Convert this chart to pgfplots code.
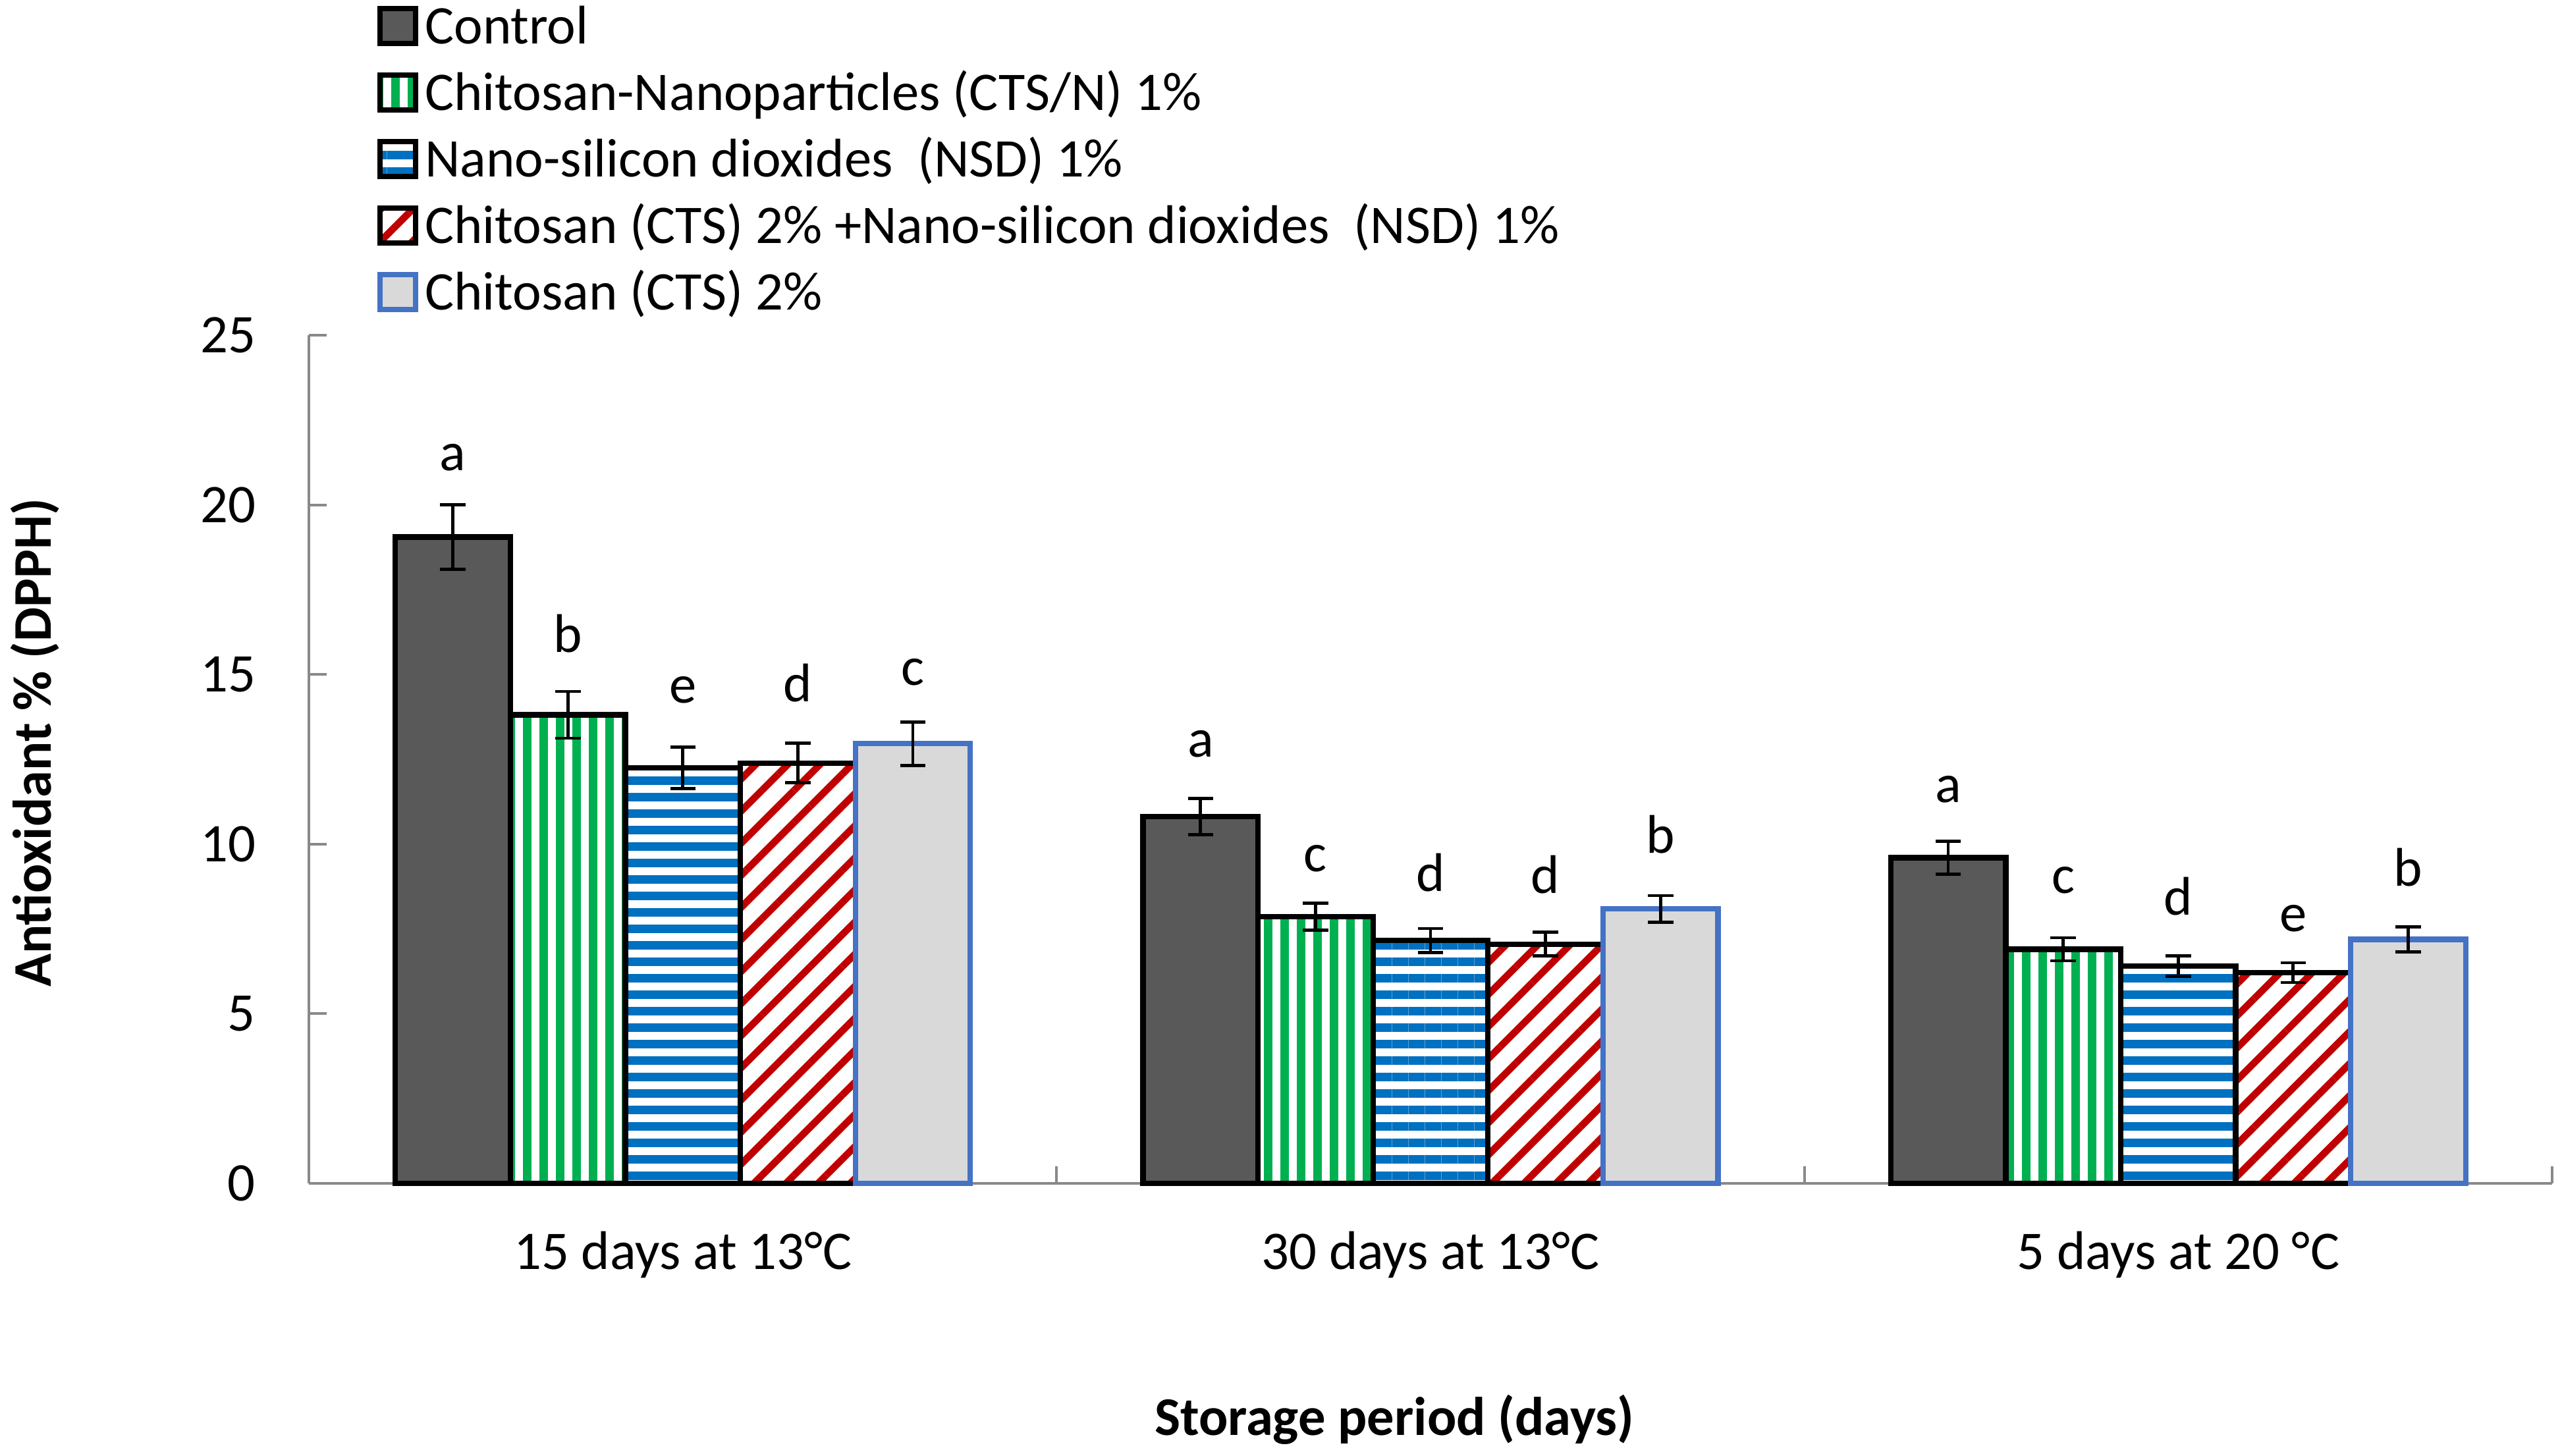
\documentclass[border=0pt]{standalone}
\usepackage{fontspec}
\setmainfont{Carlito}
\usepackage{pgfplots}
\usepackage{pgfplotstable}
\pgfplotsset{compat=1.18}
\usetikzlibrary{patterns.meta}

\definecolor{cgray}{HTML}{595959}
\definecolor{cgreen}{HTML}{00B050}
\definecolor{cblue}{HTML}{0070C0}
\definecolor{cred}{HTML}{C00000}
\definecolor{clight}{HTML}{D9D9D9}
\definecolor{cedge}{HTML}{4472C4}
\definecolor{caxis}{HTML}{898989}

\pgfplotstableread{
x y e ly lab
0 19.05 0.95 20.93 a
1 10.81 0.54 12.48 a
2 9.60 0.49 11.13 a
}\tctrl
\pgfplotstableread{
x y e ly lab
0 13.81 0.69 15.56 b
1 7.86 0.40 9.10 c
2 6.90 0.34 8.45 c
}\tnano
\pgfplotstableread{
x y e ly lab
0 12.25 0.61 14.07 e
1 7.16 0.35 8.51 d
2 6.40 0.30 7.82 d
}\tnsd
\pgfplotstableread{
x y e ly lab
0 12.39 0.58 14.11 d
1 7.05 0.35 8.45 d
2 6.21 0.29 7.33 e
}\tmix
\pgfplotstableread{
x y e ly lab
0 12.96 0.64 14.59 c
1 8.09 0.39 9.65 b
2 7.19 0.37 8.68 b
}\tcts

\begin{document}
\begin{tikzpicture}
\useasboundingbox (0,0) rectangle (564.6pt,320.9pt);
\begin{axis}[
  at={(68.1pt,60.1pt)}, anchor=south west,
  scale only axis, width=494.3pt, height=186.9pt,
  font=\fontsize{12}{14.4}\selectfont,
  /pgf/number format/assume math mode=true,
  clip=false,
  ybar=0pt, bar width=0.1538,
  xmin=-0.5, xmax=2.5, ymin=0, ymax=25,
  enlargelimits=false,
  axis x line*=bottom, axis y line*=left,
  axis line style={draw=caxis, line width=0.6pt},
  tick align=inside,
  major tick length=3.9pt, minor tick length=3.7pt,
  tick style={draw=caxis, line width=0.6pt},
  xtick={0,1,2},
  xticklabels={15 days at 13°C, 30 days at 13°C, 5 days at 20 °C},
  major x tick style={draw=none},
  minor xtick={-0.5,0.5,1.5,2.5},
  ytick={0,5,10,15,20,25},
  xticklabel style={anchor=base, inner sep=0pt, yshift=-19pt},
  yticklabel style={anchor=east, inner sep=0pt, xshift=-11.6pt},
  xlabel={Storage period (days)},
  ylabel={Antioxidant \% (DPPH)},
  xlabel style={at={(axis description cs:0.4839,-0.2975)}, anchor=base, inner sep=0pt, font=\fontsize{12}{14.4}\selectfont\bfseries},
  ylabel style={at={(axis description cs:-0.1149,0.5195)}, anchor=base, inner sep=0pt, font=\fontsize{12}{14.4}\selectfont\bfseries},
  error bars/error bar style={line width=0.7pt, draw=black, solid},
  error bars/error mark options={rotate=90, mark size=2.8pt, line width=0.7pt, draw=black, solid},
  visualization depends on={(\thisrow{ly}-\thisrow{y})*7.476 \as \dy},
  nodes near coords,
  point meta=explicit symbolic,
  nodes near coords style={anchor=south, inner sep=0pt, yshift=\dy, text=black, font=\fontsize{12}{14.4}\selectfont},
  legend cell align=left,
  legend image code/.code={\draw[#1] (0pt,-3.07pt) rectangle (7.8pt,4.63pt); \path (9.3pt,0pt);},
  legend style={at={(axis description cs:0.0305,1.3997)}, anchor=north west, draw=none, fill=none,
    inner sep=0pt, outer sep=0pt, row sep=0pt, column sep=0pt,
    font=\fontsize{12}{14.4}\selectfont,
    nodes={inner sep=0pt, text height=10.4pt, text depth=4.26pt}},
]
\addplot[bar shift=-0.3076, fill=cgray, draw=black, line width=1.2pt,
  error bars/.cd, y dir=both, y explicit]
  table[x=x, y=y, y error=e, meta=lab] {\tctrl};
\addlegendentry{Control}
\addplot[bar shift=-0.1538, draw=black, line width=1.2pt,
  pattern={Lines[angle=90, distance=3.63pt, line width=1.9pt]}, pattern color=cgreen,
  error bars/.cd, y dir=both, y explicit]
  table[x=x, y=y, y error=e, meta=lab] {\tnano};
\addlegendentry{Chitosan-Nanoparticles (CTS/N) 1\%}
\addplot[bar shift=0, draw=black, line width=1.2pt,
  pattern={Lines[angle=0, distance=3.63pt, line width=1.9pt]}, pattern color=cblue,
  error bars/.cd, y dir=both, y explicit]
  table[x=x, y=y, y error=e, meta=lab] {\tnsd};
\addlegendentry{Nano-silicon dioxides~ (NSD) 1\%}
\addplot[bar shift=0.1538, draw=black, line width=1.2pt,
  pattern={Lines[angle=45, distance=5pt, line width=1.55pt]}, pattern color=cred,
  error bars/.cd, y dir=both, y explicit]
  table[x=x, y=y, y error=e, meta=lab] {\tmix};
\addlegendentry{Chitosan (CTS) 2\% +Nano-silicon dioxides~ (NSD) 1\%}
\addplot[bar shift=0.3076, fill=clight, draw=cedge, line width=1.2pt,
  error bars/.cd, y dir=both, y explicit]
  table[x=x, y=y, y error=e, meta=lab] {\tcts};
\addlegendentry{Chitosan (CTS) 2\%}
\end{axis}
\end{tikzpicture}
\end{document}
